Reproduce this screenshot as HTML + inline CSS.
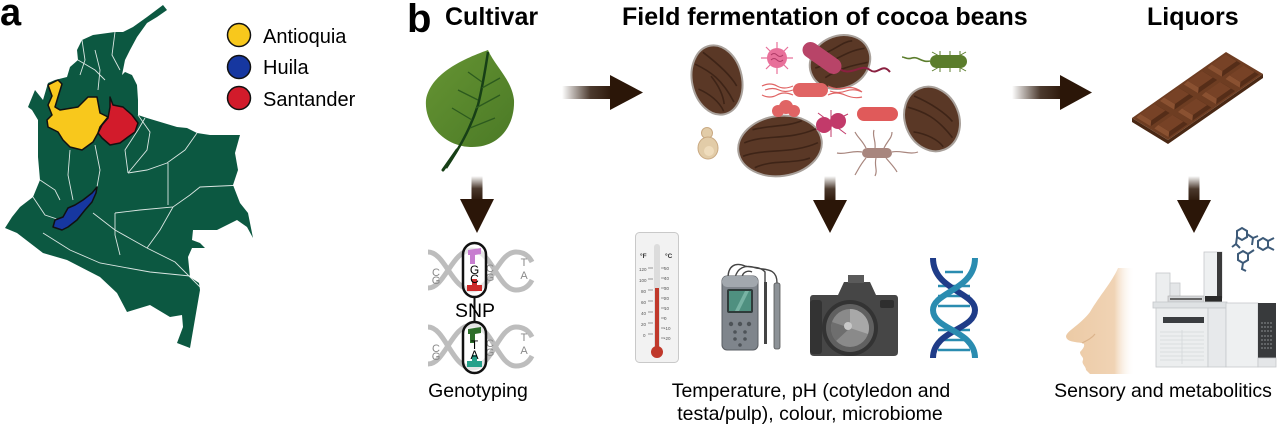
<!DOCTYPE html>
<html><head><meta charset="utf-8"><style>
html,body{margin:0;padding:0;background:#fff;}
svg{display:block;}
text{font-family:"Liberation Sans",Arial,sans-serif;}
</style></head><body>
<svg width="1280" height="428" viewBox="0 0 1280 428" xmlns="http://www.w3.org/2000/svg">
<defs>
<linearGradient id="gh" x1="0" y1="0" x2="1" y2="0"><stop offset="0" stop-color="#2b1608" stop-opacity="0"/><stop offset="0.55" stop-color="#2b1608" stop-opacity="0.85"/><stop offset="1" stop-color="#2b1608"/></linearGradient>
<linearGradient id="gv" x1="0" y1="0" x2="0" y2="1"><stop offset="0" stop-color="#2b1608" stop-opacity="0"/><stop offset="0.5" stop-color="#2b1608" stop-opacity="0.85"/><stop offset="1" stop-color="#2b1608"/></linearGradient>
<linearGradient id="skin" x1="0" y1="0" x2="1" y2="0"><stop offset="0" stop-color="#eccaa5"/><stop offset="0.7" stop-color="#f0d3b4"/><stop offset="1" stop-color="#ffffff" stop-opacity="0"/></linearGradient>
<linearGradient id="leafg" x1="0" y1="0" x2="1" y2="1"><stop offset="0" stop-color="#669433"/><stop offset="1" stop-color="#4b7a26"/></linearGradient>
<g id="blk"><polygon points="-16.7,2.2 2.3,-11 16.7,-2.2 -2.3,11" fill="#552d18"/><polygon points="-16.7,2.2 -2.3,11 -1.7,5.25 -12.5,-1.35" fill="#8a5131"/><polygon points="-12.5,-1.35 1.7,-11.25 12.5,-4.65 -1.7,5.25" fill="#774226"/></g>
</defs>

<text x="0" y="25" font-size="38" font-weight="bold">a</text>
<text x="407" y="32" font-size="40" font-weight="bold">b</text>

<polygon fill="#0c5841" points="163,5 147,17 133,27 123,32 115,32 93,35 82,40 77,50 78,60 70,67 67,77 55,80 48,83 43,100 35,90 28,107 32,110 38,120 38,157 40,180 33,197 20,207 12,217 5,228 17,233 43,253 67,260 100,277 117,293 127,312 150,305 170,317 182,315 183,327 177,343 190,348 200,290 199,283 190,277 188,257 192,248 205,248 200,243 192,240 193,230 217,230 237,220 247,227 253,238 248,213 240,203 233,185 238,170 235,153 240,135 210,135 197,133 187,128 177,127 147,118 138,115 138,100 137,85 132,75 125,72 122,75 125,60 130,50 137,37 147,23 157,17 167,10"/>
<g fill="none" stroke="#ffffff" stroke-width="0.9" opacity="0.85">
<polyline points="128,173 147,170 167,163 185,150 197,133"/>
<polyline points="168,163 168,205"/>
<polyline points="115,213 140,210 173,207 190,195 200,187 243,185"/>
<polyline points="93,213 115,230 147,248 175,262 200,287"/>
<polyline points="43,233 70,250 100,263 150,272 200,277"/>
<polyline points="115,213 115,235 120,255"/>
<polyline points="147,248 160,230 173,207"/>
<polyline points="128,173 125,150 138,130 145,118"/>
<polyline points="70,150 68,175 73,200"/>
<polyline points="95,145 100,170 97,187"/>
<polyline points="40,180 55,190 60,200"/>
<polyline points="82,40 85,60 80,75"/>
<polyline points="115,32 112,55 120,70"/>
<polyline points="95,50 100,70 98,90"/>
<polyline points="78,60 95,70 105,80"/>
<polyline points="33,197 45,215 60,220"/>
<polyline points="138,115 150,132 147,150 128,173"/>
</g>
<polygon fill="#f8c81c" stroke="#111" stroke-width="1.5" stroke-linejoin="round" points="48,85 58,80 62,84 58,97 55,107 60,110 78,107 88,97 97,97 100,113 108,117 100,127 98,133 93,142 82,150 70,147 63,140 58,132 48,127 47,120 52,115 48,105 52,96"/>
<polygon fill="#d21b2b" stroke="#111" stroke-width="1.5" stroke-linejoin="round" points="110,97 113,105 123,107 132,115 138,123 135,132 128,137 120,143 110,145 102,138 98,133 102,125 108,118 110,107"/>
<polygon fill="#1637a0" stroke="#111" stroke-width="1.5" stroke-linejoin="round" points="97,187 92,193 83,200 75,205 68,208 63,217 55,220 53,227 62,230 68,227 77,220 85,210 92,202 96,193"/>
<circle cx="239" cy="35" r="11.5" fill="#f8c81c" stroke="#111" stroke-width="1.5"/>
<circle cx="239" cy="67" r="11.5" fill="#1637a0" stroke="#111" stroke-width="1.5"/>
<circle cx="239" cy="98" r="11.5" fill="#d21b2b" stroke="#111" stroke-width="1.5"/>
<text x="263" y="43" font-size="20">Antioquia</text>
<text x="263" y="74" font-size="20">Huila</text>
<text x="263" y="106" font-size="20">Santander</text>

<text x="445" y="25" font-size="25" font-weight="bold">Cultivar</text>
<text x="622" y="25" font-size="25" font-weight="bold">Field fermentation of cocoa beans</text>
<text x="1147" y="25" font-size="25" font-weight="bold">Liquors</text>

<path d="M488,50 C460,60 430,75 426,100 C424,125 445,146 470,147 C500,148 515,125 514,100 C512,80 495,66 488,50 Z" fill="url(#leafg)"/>
<path d="M446,168 C458,150 470,130 478,105 C483,85 486,65 488,52" fill="none" stroke="#173f16" stroke-width="2.5"/>
<path d="M472,120 L452,108 M478,100 L458,90 M482,82 L468,72 M470,128 L495,118 M476,108 L500,95 M482,88 L500,78" fill="none" stroke="#2c5a1e" stroke-width="1.3"/>
<path d="M457,150 L443,170" stroke="#173f16" stroke-width="3" stroke-linecap="round"/>

<rect x="562" y="86" width="52" height="13" fill="url(#gh)"/>
<polygon points="610,75 643,92.5 610,110" fill="#2b1608"/>
<rect x="1012" y="86" width="52" height="13" fill="url(#gh)"/>
<polygon points="1060,75 1092,92.5 1060,110" fill="#2b1608"/>
<rect x="471.5" y="176" width="11" height="25" fill="url(#gv)"/>
<polygon points="460,199 494,199 477,233" fill="#2b1608"/>
<rect x="824.5" y="176" width="11" height="26" fill="url(#gv)"/>
<polygon points="813,200 847,200 830,233" fill="#2b1608"/>
<rect x="1188.5" y="176" width="11" height="26" fill="url(#gv)"/>
<polygon points="1177,200 1211,200 1194,233" fill="#2b1608"/>

<g transform="translate(717,80) rotate(-12)">
<ellipse rx="25" ry="35" fill="#5a3826" stroke="#a9a19b" stroke-width="2"/>
<path d="M-18,-20 C-5,-10 5,0 12,25 M-8,-30 C5,-15 15,0 18,10 M-20,5 C-10,12 -2,22 0,32 M-5,-5 C0,5 3,15 2,25" fill="none" stroke="#3e2417" stroke-width="1.6"/>
</g>
<g transform="translate(840,62) rotate(-25)">
<ellipse rx="31" ry="26" fill="#5a3826" stroke="#a9a19b" stroke-width="2"/>
<path d="M-25,-5 C-10,-2 10,-8 28,-2 M-20,8 C0,5 15,10 25,12 M-15,-15 C0,-12 10,-18 20,-14" fill="none" stroke="#3e2417" stroke-width="1.6"/>
</g>
<g transform="translate(780,146) rotate(-8)">
<ellipse rx="42" ry="30" fill="#5a3826" stroke="#a9a19b" stroke-width="2"/>
<path d="M-35,-8 C-15,-14 10,-4 38,-12 M-38,5 C-15,0 10,10 38,2 M-28,18 C-10,12 10,20 28,16 M-25,-20 C-5,-22 10,-18 25,-22" fill="none" stroke="#3e2417" stroke-width="1.6"/>
</g>
<g transform="translate(932,119) rotate(-22)">
<ellipse rx="27" ry="33" fill="#5a3826" stroke="#a9a19b" stroke-width="2"/>
<path d="M-18,-20 C-5,-10 5,0 12,25 M-8,-28 C5,-15 15,0 18,10 M-22,5 C-10,12 -2,22 0,30" fill="none" stroke="#3e2417" stroke-width="1.6"/>
</g>
<g stroke="#e8709a" stroke-width="1.2">
<line x1="777" y1="42" x2="777" y2="74"/><line x1="761" y1="58" x2="793" y2="58"/>
<line x1="766" y1="47" x2="788" y2="69"/><line x1="788" y1="47" x2="766" y2="69"/>
</g>
<circle cx="777" cy="58" r="10" fill="#e8709a"/>
<path d="M771,55 q3,-3 6,0 t6,0 M771,60 q3,-3 6,0 t6,0" fill="none" stroke="#b03a66" stroke-width="1"/>
<path d="M836,66 C850,80 860,62 870,70 C878,76 882,62 890,72" fill="none" stroke="#8a2040" stroke-width="2"/>
<rect x="-22" y="-8" width="44" height="16" rx="8" fill="#b84468" transform="translate(822,58) rotate(35)"/>
<path d="M762,86 q8,-4 15,0 t16,0 M762,95 q8,4 15,0 t16,0 M765,90 q8,-3 14,0 t14,0 M828,86 q8,4 17,2 t17,4 M828,95 q8,-4 17,0 t17,2 M830,91 q8,3 16,0 t16,1" fill="none" stroke="#e06464" stroke-width="1.2"/>
<rect x="793" y="83" width="35" height="14" rx="7" fill="#e06464"/>
<circle cx="778" cy="111" r="6" fill="#e06464"/><circle cx="786" cy="107" r="7" fill="#e06464"/><circle cx="794" cy="111" r="6" fill="#e06464"/>
<g stroke="#c23a6a" stroke-width="1"><line x1="818" y1="113" x2="846" y2="134"/><line x1="816" y1="130" x2="848" y2="114"/><line x1="831" y1="110" x2="831" y2="137"/></g>
<circle cx="824" cy="125" r="8" fill="#c23a6a"/><circle cx="838" cy="121" r="8" fill="#c23a6a"/>
<rect x="857" y="107" width="41" height="14" rx="7" fill="#e05a5a"/>
<path d="M930,61 C922,63 918,56 912,58 C907,60 905,57 902,57" fill="none" stroke="#5b7d2c" stroke-width="1.6"/>
<g stroke="#5b7d2c" stroke-width="1"><line x1="932" y1="52" x2="966" y2="71"/><line x1="932" y1="71" x2="966" y2="52"/><line x1="940" y1="51" x2="940" y2="72"/><line x1="950" y1="51" x2="950" y2="72"/><line x1="960" y1="51" x2="960" y2="72"/></g>
<rect x="930" y="55" width="37" height="13" rx="6.5" fill="#5b7d2c"/>
<path d="M866,148 C862,140 858,138 855,132 M875,148 C876,140 872,136 874,130 M884,148 C888,140 892,138 892,132 M866,158 C860,165 858,170 855,175 M876,158 C874,166 878,170 875,176 M886,158 C892,165 895,168 897,172 M862,152 C852,150 845,155 837,153 M892,152 C900,150 910,155 918,152" fill="none" stroke="#a8867e" stroke-width="1.2"/>
<rect x="862" y="148" width="30" height="10" rx="5" fill="#a8867e"/>
<circle cx="707" cy="133" r="5.5" fill="#e2cca8" stroke="#c9a982"/>
<ellipse cx="708" cy="148" rx="10" ry="11" fill="#e2cca8" stroke="#c9a982"/>
<ellipse cx="709" cy="151" rx="5" ry="5" fill="#efdcbc"/>

<polygon points="1132,118 1168,140 1263,74 1263,78 1168,144 1132,122" fill="#4a2814"/>
<polygon points="1132,118 1168,140 1263,74 1226,52" fill="#6e3d22"/>
<use href="#blk" x="1152.9" y="115.25"/>
<use href="#blk" x="1176.6" y="98.75"/>
<use href="#blk" x="1200.4" y="82.25"/>
<use href="#blk" x="1224.1" y="65.75"/>
<use href="#blk" x="1170.9" y="126.25"/>
<use href="#blk" x="1194.6" y="109.75"/>
<use href="#blk" x="1218.4" y="93.25"/>
<use href="#blk" x="1242.1" y="76.75"/>

<g fill="none" stroke="#bdbdbd" stroke-width="5">
<path d="M428,252 C445,252 452,290 472,290 C492,290 498,252 516,252 C526,252 530,258 532,262"/>
<path d="M428,288 C445,288 452,250 472,250 C492,250 498,290 516,290 C526,290 530,284 532,280"/>
<path d="M428,327 C445,327 452,368 472,368 C492,368 498,327 516,327 C526,327 530,333 532,337"/>
<path d="M428,364 C445,364 452,325 472,325 C492,325 498,366 516,366 C526,366 530,360 532,356"/>
</g>
<g font-size="11" fill="#8a8a8a" text-anchor="middle">
<text x="436" y="276">C</text><text x="436" y="284">G</text>
<text x="490" y="272">C</text><text x="490" y="281">G</text>
<text x="524" y="266">T</text><text x="524" y="279">A</text>
<text x="436" y="352">C</text><text x="436" y="360">G</text>
<text x="490" y="347">C</text><text x="490" y="356">G</text>
<text x="524" y="341">T</text><text x="524" y="354">A</text>
</g>
<line x1="474.5" y1="296" x2="474.5" y2="323" stroke="#111" stroke-width="2"/>
<rect x="463" y="243" width="23" height="54" rx="11.5" fill="#ffffff" fill-opacity="0.6" stroke="#111" stroke-width="2.5"/>
<path d="M468,250 L481,248 L481,254 L475,255 L475,264 L470,264 L470,255 L468,255 Z" fill="#c77dd0"/>
<rect x="467" y="285" width="15" height="6" fill="#cc2a2a"/><rect x="472" y="279" width="5" height="8" fill="#cc2a2a"/>
<text x="474.5" y="274" font-size="12" text-anchor="middle">G</text>
<text x="474.5" y="283" font-size="12" text-anchor="middle">C</text>
<rect x="463" y="322" width="23" height="51" rx="11.5" fill="#ffffff" fill-opacity="0.6" stroke="#111" stroke-width="2.5"/>
<path d="M468,329 L481,327 L481,333 L475,334 L475,343 L470,343 L470,334 L468,334 Z" fill="#2d6e2a"/>
<rect x="467" y="361" width="15" height="6" fill="#26a08a"/><rect x="472" y="355" width="5" height="8" fill="#26a08a"/>
<text x="474.5" y="349" font-size="12" text-anchor="middle">T</text>
<text x="474.5" y="359" font-size="12" text-anchor="middle">A</text>
<text x="475" y="317" font-size="19.5" text-anchor="middle">SNP</text>

<rect x="635.5" y="232.5" width="43" height="130" rx="4" fill="#f2f2f2" stroke="#c9c9c9"/>
<rect x="654" y="244" width="6" height="108" rx="3" fill="#dcdcdc"/>
<rect x="655" y="288" width="4" height="62" fill="#c0392b"/>
<circle cx="657" cy="352" r="6" fill="#c0392b"/>
<text x="640" y="258" font-size="6.5" font-weight="bold" fill="#333">°F</text>
<text x="665" y="258" font-size="6.5" font-weight="bold" fill="#333">°C</text>
<g font-size="4.5" fill="#555">
<text x="639" y="271">120</text><text x="639" y="282">100</text><text x="641" y="293">80</text><text x="641" y="304">60</text><text x="641" y="315">40</text><text x="641" y="326">20</text><text x="643" y="337">0</text>
<text x="664" y="270">50</text><text x="664" y="280">40</text><text x="664" y="290">30</text><text x="664" y="300">20</text><text x="664" y="310">10</text><text x="664" y="320">0</text><text x="664" y="330">-10</text><text x="664" y="340">-20</text>
</g>
<path d="M648,268 H653 M648,279 H653 M648,290 H653 M648,301 H653 M648,312 H653 M648,323 H653 M648,334 H653 M661,268 H665 M661,278 H665 M661,288 H665 M661,298 H665 M661,308 H665 M661,318 H665 M661,328 H665 M661,338 H665" stroke="#777" stroke-width="0.7"/>

<path d="M728,278 C728,266 735,262 745,266 C752,268 760,266 765,272 L765,282 M735,278 C737,268 745,264 756,268 C766,270 777,268 777,283 M742,278 C742,272 748,270 752,272" fill="none" stroke="#444" stroke-width="1.4"/>
<rect x="722" y="276" width="36" height="74" rx="5" fill="#7f858c" stroke="#5a5e63"/>
<rect x="722" y="276" width="36" height="11" rx="5" fill="#a2a8ae"/>
<rect x="727" y="289" width="26" height="24" rx="2" fill="#2f3b3a"/>
<rect x="729" y="291" width="22" height="20" fill="#4f9080"/>
<polygon points="735,311 745,291 749,291 739,311" fill="#78b3a4"/>
<g fill="#4e5358"><circle cx="731" cy="324" r="2.2"/><circle cx="740" cy="324" r="2.2"/><circle cx="749" cy="324" r="2.2"/><circle cx="735" cy="332" r="1.8"/><circle cx="745" cy="332" r="1.8"/><circle cx="735" cy="339" r="1.8"/><circle cx="745" cy="339" r="1.8"/><circle cx="740" cy="345" r="1.8"/></g>
<rect x="764" y="282" width="3" height="62" fill="#444"/>
<rect x="774" y="283" width="6" height="66" rx="2" fill="#8d9297" stroke="#555" stroke-width="0.8"/>

<path d="M813,295 L838,295 L844,282 L870,282 L876,295 L895,295 Q898,295 898,299 L898,352 Q898,356 894,356 L814,356 Q810,356 810,352 L810,299 Q810,295 813,295 Z" fill="#464646"/>
<rect x="848" y="275" width="16" height="8" fill="#5a5a5a"/>
<rect x="810" y="300" width="12" height="54" rx="3" fill="#333"/>
<rect x="880" y="300" width="14" height="8" rx="2" fill="#2e2e2e"/>
<circle cx="850" cy="328" r="28" fill="#333"/>
<circle cx="850" cy="328" r="24" fill="#606060"/>
<circle cx="850" cy="328" r="19" fill="#8a8a8a"/>
<path d="M850,328 L850,309 A19,19 0 0,1 868,334 Z" fill="#a8a8a8"/>
<path d="M850,328 L836,341 A19,19 0 0,1 832,322 Z" fill="#6e6e6e"/>
<circle cx="848" cy="326" r="4" fill="#c8c8c8"/>

<g fill="none" stroke-width="2.5">
<path d="M938,286 H970 M938,296 H970 M938,306 H970 M938,330 H970 M938,340 H970 M938,350 H970 M945,272 H963" stroke="#2a8cb0"/>
</g>
<path d="M933,258 C933,290 975,292 975,310 C975,330 933,330 933,358" fill="none" stroke="#1f3c88" stroke-width="6"/>
<path d="M975,258 C975,290 933,292 933,310 C933,330 975,330 975,358" fill="none" stroke="#2a8cb0" stroke-width="6"/>

<path d="M1118,268 C1112,282 1100,295 1090,312 C1080,325 1068,330 1066,336 C1066,342 1076,342 1082,343 C1086,344 1084,348 1080,352 C1080,356 1084,357 1083,360 C1081,364 1086,366 1086,370 L1090,374 L1135,374 L1135,268 Z" fill="url(#skin)"/>
<path d="M1082,343 C1088,340 1092,338 1095,334" fill="none" stroke="#dcb48c" stroke-width="1.2"/>

<rect x="1156" y="273" width="14" height="30" fill="#eceeef" stroke="#c5c8cb" stroke-width="0.8"/>
<rect x="1170" y="283" width="10" height="20" fill="#e4e6e8" stroke="#c5c8cb" stroke-width="0.8"/>
<rect x="1168" y="296" width="36" height="6" fill="#d6d8da" stroke="#aaa" stroke-width="0.6"/>
<rect x="1170" y="298" width="32" height="2" fill="#666"/>
<rect x="1204" y="252" width="18" height="46" fill="#eef0f1" stroke="#c5c8cb" stroke-width="0.8"/>
<rect x="1217" y="252" width="5" height="46" fill="#3a3a3a"/>
<rect x="1205" y="296" width="17" height="7" fill="#2a2a2a"/>
<rect x="1153" y="302" width="74" height="6" fill="#dfe2e4" stroke="#c5c8cb" stroke-width="0.8"/>
<rect x="1156" y="308" width="52" height="59" fill="#eceeef" stroke="#c5c8cb" stroke-width="0.8"/>
<rect x="1163" y="317" width="41" height="6" fill="#3a3d40"/>
<path d="M1160,332 H1204 M1160,336 H1204 M1160,340 H1204 M1160,344 H1204 M1160,348 H1204 M1160,352 H1204 M1160,356 H1204 M1160,360 H1204 M1182,330 V364" stroke="#d4d7da" stroke-width="0.8"/>
<rect x="1208" y="308" width="18" height="59" fill="#e7e9eb" stroke="#c5c8cb" stroke-width="0.8"/>
<rect x="1226" y="303" width="32" height="64" fill="#eef0f1" stroke="#c5c8cb" stroke-width="0.8"/>
<rect x="1258" y="303" width="18" height="55" fill="#383a3c"/>
<rect x="1258" y="358" width="18" height="9" fill="#e4e6e8" stroke="#c5c8cb" stroke-width="0.8"/>
<path d="M1261,323 H1273 M1261,327 H1273 M1261,331 H1273 M1261,336 H1273 M1261,340 H1273 M1261,344 H1273 M1261,348 H1273" stroke="#8a8d90" stroke-width="1" stroke-dasharray="2,1"/>
<g fill="none" stroke="#3d5a78" stroke-width="2">
<polygon points="1237,231 1242,228 1247,231 1247,237 1242,240 1237,237"/>
<path d="M1247,234 L1253,238 L1252,245 M1253,238 L1258,236 M1237,237 L1236,244 L1232,247 M1236,244 L1240,248"/>
<polygon points="1258,241 1263,238 1268,241 1268,247 1263,250 1258,247"/>
<path d="M1268,241 L1274,238 M1268,247 L1274,250"/>
<polygon points="1238,254 1243,251 1248,254 1248,260 1243,263 1238,260"/>
<path d="M1243,263 L1242,269 L1246,271 M1248,254 L1254,250"/>
</g>

<text x="478" y="397" font-size="19.5" text-anchor="middle">Genotyping</text>
<text x="811" y="397" font-size="19.5" text-anchor="middle">Temperature, pH (cotyledon and</text>
<text x="810" y="420" font-size="19.5" text-anchor="middle">testa/pulp), colour, microbiome</text>
<text x="1163" y="397" font-size="19.5" text-anchor="middle">Sensory and metabolitics</text>
</svg>
</body></html>
